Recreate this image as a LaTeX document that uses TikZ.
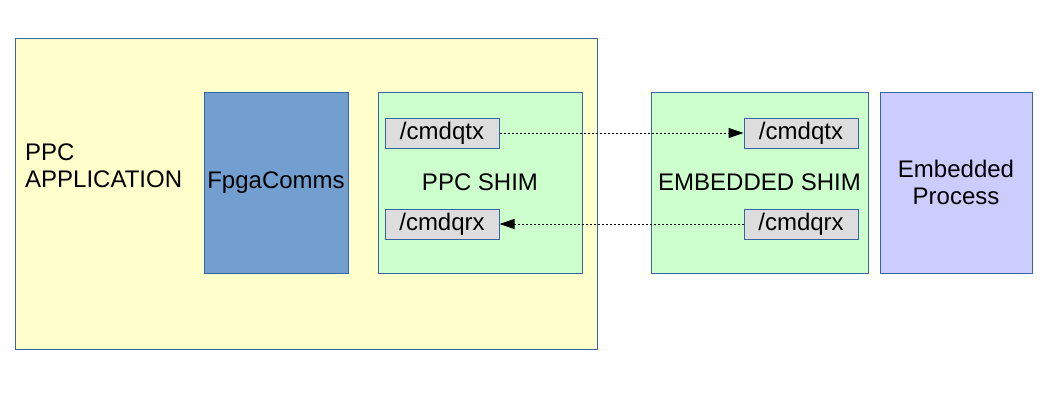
\documentclass[tikz,border=0pt]{standalone}
\usepackage{fontspec}
\setmainfont{Liberation Sans}
\usetikzlibrary{arrows.meta}
\definecolor{appyellow}{HTML}{FFFFCC}
\definecolor{shimgreen}{HTML}{CCFFCC}
\definecolor{commsblue}{HTML}{729FCF}
\definecolor{procviolet}{HTML}{CCCCFF}
\definecolor{qgray}{HTML}{DDDDDD}
\definecolor{edgeblue}{HTML}{3465A4}
\begin{document}
\begin{tikzpicture}[x=1pt,y=-1pt,
  every node/.style={font=\fontsize{24}{26.7}\selectfont, inner sep=0pt},
  box/.style={draw=edgeblue, line width=1pt, rectangle, align=center},
  qbox/.style={box, fill=qgray, minimum width=114pt, minimum height=30pt},
  flow/.style={line width=1pt, dash pattern=on 2pt off 2pt, -{Triangle[length=15pt,width=10pt]}}
]
\useasboundingbox (0,0) rectangle (1054,404);
\node[box, fill=appyellow, minimum width=582pt, minimum height=310pt] (app) at (306,194) {};
\node[anchor=north west, align=left] (apptxt) at (25,144) {PPC\\APPLICATION};
\node[box, fill=commsblue, minimum width=144pt, minimum height=181pt] (comms) at (276,182.5) {FpgaComms};
\node[box, fill=shimgreen, minimum width=204pt, minimum height=181pt] (pshim) at (480,182.5) {PPC SHIM};
\node[box, fill=shimgreen, minimum width=217pt, minimum height=181pt] (eshim) at (759.5,182.5) {EMBEDDED SHIM};
\node[box, fill=procviolet, minimum width=152pt, minimum height=181pt] (proc) at (956,182.5) {Embedded\\Process};
\node[qbox] (ptx) at (442,133) {/cmdqtx};
\node[qbox] (prx) at (442,224) {/cmdqrx};
\node[qbox] (etx) at (801,133) {/cmdqtx};
\node[qbox] (erx) at (801,224) {/cmdqrx};
\draw[flow] (ptx.east) -- (etx.west);
\draw[flow] (erx.west) -- (prx.east);
\end{tikzpicture}
\end{document}
